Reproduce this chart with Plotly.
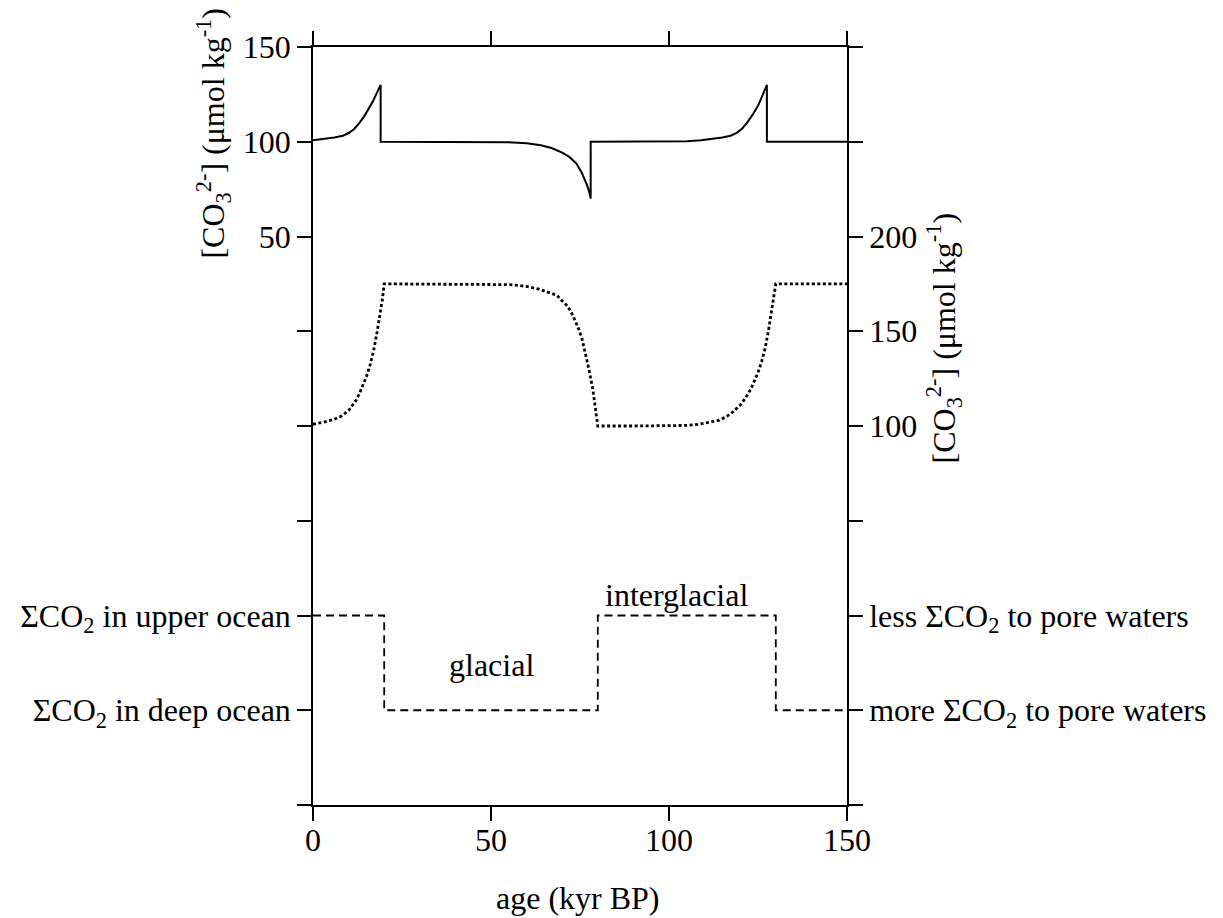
import plotly.graph_objects as go

# ---- data ----
solid_age = [0, 2, 4, 6, 8.4, 10, 11.5, 13, 14.5, 16, 16.8, 17.6, 18.3, 19,
             19, 30, 40, 50, 55, 60, 64, 67, 70, 72, 74, 75.5, 76.3, 77, 77.6, 78,
             78, 90, 100, 105, 109, 111, 113, 115, 117.3, 119, 120.5, 122, 123.5, 125, 125.7, 126.4, 127, 127.5,
             127.5, 150]
solid_val = [100.8, 101.2, 101.7, 102.3, 103.2, 104.6, 106.6, 109.8, 113.8, 118.3, 121.2, 124.5, 127.3, 130,
             100, 100, 100, 100, 99.8, 99.2, 98.2, 96.7, 94.3, 92, 88.5, 83.7, 80.5, 77, 73.5, 70,
             100, 100, 100.1, 100.3, 100.8, 101.2, 101.7, 102.3, 103.2, 104.7, 106.8, 110.2, 114.3, 119, 122, 125.2, 127.8, 130,
             100, 100]

dot_age = [0, 3, 6, 8, 10, 11, 12, 13, 14, 15, 16, 17, 18, 19, 19.5, 20,
           30, 40, 50, 55, 58, 61, 63.5, 66, 68.5, 70, 71.5, 73, 74, 74.6, 75.5, 76.6, 77.5, 78.6, 79.3, 80,
           90, 100, 105, 108, 111, 114, 116, 118, 120, 121.5, 123, 124, 125, 126, 127, 128, 128.6, 129.2, 129.6, 130,
           150]
dot_val = [100.9, 102, 103.6, 105.3, 108.2, 110.6, 113.3, 117, 121.3, 126, 132, 139.5, 149.6, 160, 167, 175,
           175, 175, 175, 174.6, 174.1, 173.3, 172.2, 170.5, 169, 166, 163.3, 158.3, 154, 151.3, 146.5, 138, 130, 119.5, 110, 100,
           100, 100, 100.3, 100.8, 101.8, 103, 104.8, 107.5, 111, 114.8, 119.5, 123.6, 128.2, 134, 141, 151, 159, 166, 171, 175,
           175]

dash_age = [0, 20, 20, 80, 80, 130, 130, 150]
dash_val = [-150, -150, -200, -200, -150, -150, -200, -200]

x_ticks = [0, 50, 100, 150]
left_tickvals = [150, 100, 50, -150, -200]
left_ticktext = ["150", "100", "50", "ΣCO<sub>2</sub> in upper ocean", "ΣCO<sub>2</sub> in deep ocean"]
left_minor = [0, -50, -100, -250]
right_tickvals = [200, 150, 100, 0, -50]
right_ticktext = ["200", "150", "100", "less ΣCO<sub>2</sub> to pore waters", "more ΣCO<sub>2</sub> to pore waters"]
right_minor = [300, 250, 50, -100]

FONT = "Liberation Serif"
FS = 32

# page body has an 8px offset; plot area should sit at x 310..847, y 47..805 on the page
OFF = 8
PX0, PX1, PY0, PY1 = 310, 847, 47, 805
W, H = 1223, 918


def px(xp):
    return (xp - PX0) / (PX1 - PX0)


def py(yp):
    return (PY1 - yp) / (PY1 - PY0)


fig = go.Figure()
fig.add_trace(go.Scatter(x=solid_age, y=solid_val, mode="lines",
                         line=dict(color="black", width=2), yaxis="y", showlegend=False))
fig.add_trace(go.Scatter(x=dot_age, y=dot_val, mode="lines",
                         line=dict(color="black", width=2.8, dash="3px,2.5px"), yaxis="y2", showlegend=False))
fig.add_trace(go.Scatter(x=dash_age, y=dash_val, mode="lines",
                         line=dict(color="black", width=1.8, dash="8px,5px"), yaxis="y", showlegend=False))

TL = 14
axis_common = dict(showline=True, linecolor="black", linewidth=1.5, ticks="outside", ticklen=TL,
                   tickwidth=1.5, tickcolor="black", showgrid=False, zeroline=False,
                   tickfont=dict(family=FONT, size=FS, color="black"))


def minor(vals):
    return dict(tickmode="array", tickvals=vals, ticks="outside", ticklen=TL, tickwidth=1.5,
                tickcolor="black", showgrid=False)


fig.update_layout(
    width=W, height=H,
    margin=dict(l=PX0 - OFF, r=W - PX1 + OFF, t=PY0 - OFF, b=H - PY1 + OFF),
    paper_bgcolor="white", plot_bgcolor="white",
    font=dict(family=FONT, size=FS, color="black"),
    xaxis=dict(range=[0, 150], tickmode="array", tickvals=x_ticks, mirror="ticks",
               ticklabelstandoff=-8, **axis_common),
    yaxis=dict(range=[-250, 150], tickmode="array", tickvals=left_tickvals, ticktext=left_ticktext,
               minor=minor(left_minor), ticklabelstandoff=0, **axis_common),
    yaxis2=dict(range=[-100, 300], tickmode="array", tickvals=right_tickvals, ticktext=right_ticktext,
                minor=minor(right_minor), overlaying="y", side="right", ticklabelstandoff=0, **axis_common),
    annotations=[
        dict(text="[CO<sub>3</sub><sup>2-</sup>] (μmol kg<sup>-1</sup>)", textangle=-90,
             xref="paper", yref="paper", x=px(209), y=py(133),
             xanchor="center", yanchor="middle", showarrow=False, font=dict(family=FONT, size=FS)),
        dict(text="[CO<sub>3</sub><sup>2-</sup>] (μmol kg<sup>-1</sup>)", textangle=-90,
             xref="paper", yref="paper", x=px(944), y=py(338),
             xanchor="center", yanchor="middle", showarrow=False, font=dict(family=FONT, size=FS)),
        dict(text="age (kyr BP)", xref="paper", yref="paper", x=px(576), y=py(898),
             xanchor="center", yanchor="middle", showarrow=False, font=dict(family=FONT, size=FS)),
        dict(text="glacial", xref="x", yref="y", x=50, y=-176, xanchor="center", yanchor="middle",
             showarrow=False, font=dict(family=FONT, size=FS)),
        dict(text="interglacial", xref="x", yref="y", x=102, y=-139, xanchor="center", yanchor="middle",
             showarrow=False, font=dict(family=FONT, size=FS)),
    ],
)

fig.write_html("out.html")
